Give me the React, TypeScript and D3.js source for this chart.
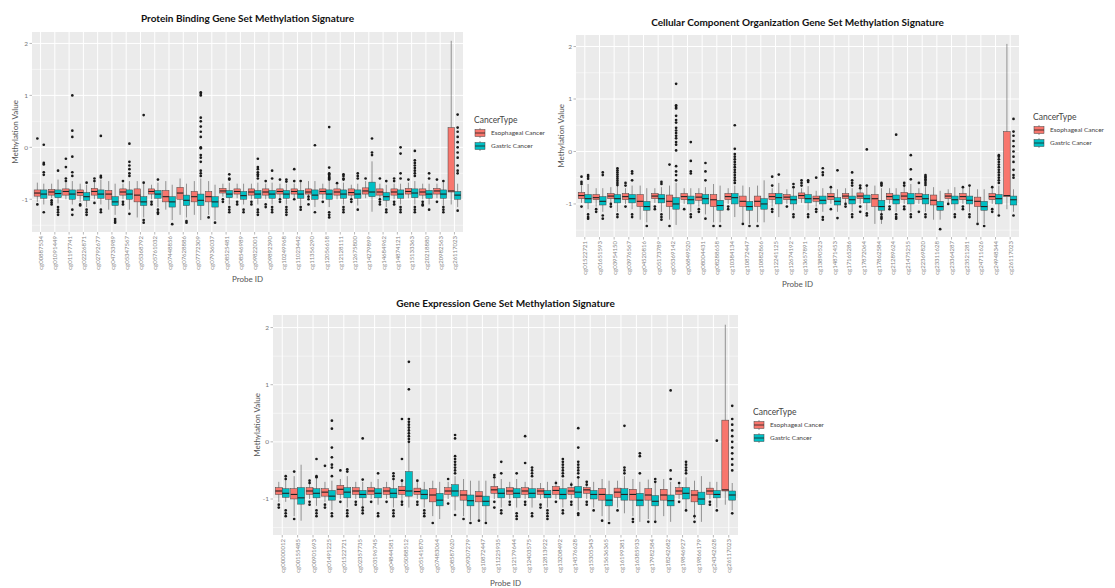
import React, { useRef, useEffect } from 'react';
import * as d3 from 'd3';

// ---- Protein Binding ----
const proteinProbes = ['cg00887534','cg01091449','cg01197741','cg02226871','cg02792677','cg04733989','cg05347567','cg05368792','cg05761032','cg07448856','cg07628886','cg07772309','cg07936037','cg08525481','cg08546989','cg09822001','cg09892390','cg10249968','cg11023442','cg11356290','cg12056618','cg12128111','cg12675800','cg14279899','cg14684962','cg14874121','cg15133363','cg20218880','cg20982563','cg26117023'];
// [low whisker, q1, median, q3, high whisker]
const proteinEso = [[-1.05,-0.94,-0.88,-0.82,-0.68],[-0.98,-0.92,-0.86,-0.81,-0.7],[-1.0,-0.92,-0.85,-0.8,-0.68],[-1.05,-0.93,-0.87,-0.82,-0.7],[-1.0,-0.92,-0.85,-0.79,-0.68],[-1.2,-1.0,-0.9,-0.83,-0.65],[-1.0,-0.92,-0.86,-0.8,-0.7],[-1.35,-1.05,-0.92,-0.8,-0.65],[-1.0,-0.9,-0.85,-0.8,-0.72],[-1.2,-1.05,-0.95,-0.83,-0.65],[-1.3,-1.0,-0.88,-0.77,-0.6],[-1.3,-1.05,-0.95,-0.85,-0.65],[-1.3,-1.05,-0.95,-0.85,-0.65],[-0.95,-0.88,-0.84,-0.79,-0.7],[-0.98,-0.9,-0.85,-0.8,-0.7],[-1.0,-0.92,-0.86,-0.8,-0.7],[-1.0,-0.92,-0.86,-0.8,-0.7],[-0.98,-0.9,-0.85,-0.8,-0.7],[-0.98,-0.9,-0.85,-0.8,-0.7],[-0.95,-0.9,-0.86,-0.8,-0.65],[-1.0,-0.9,-0.85,-0.8,-0.7],[-1.0,-0.92,-0.86,-0.8,-0.72],[-1.0,-0.92,-0.87,-0.8,-0.72],[-0.98,-0.9,-0.84,-0.78,-0.65],[-1.0,-0.92,-0.86,-0.8,-0.7],[-1.0,-0.92,-0.86,-0.8,-0.7],[-0.98,-0.9,-0.85,-0.79,-0.68],[-1.0,-0.92,-0.86,-0.8,-0.7],[-0.98,-0.9,-0.84,-0.79,-0.7],[-1.1,-0.86,-0.84,0.38,2.05]];
const proteinGas = [[-1.1,-0.98,-0.9,-0.82,-0.7],[-1.08,-0.97,-0.89,-0.82,-0.62],[-1.1,-1.0,-0.9,-0.82,-0.65],[-1.15,-1.02,-0.95,-0.87,-0.72],[-1.1,-0.98,-0.9,-0.82,-0.62],[-1.3,-1.12,-1.05,-0.95,-0.7],[-1.2,-1.0,-0.9,-0.82,-0.65],[-1.35,-1.12,-1.05,-0.95,-0.7],[-1.15,-0.98,-0.9,-0.83,-0.68],[-1.4,-1.15,-1.05,-0.95,-0.72],[-1.35,-1.12,-1.02,-0.92,-0.7],[-1.4,-1.12,-1.02,-0.9,-0.6],[-1.4,-1.15,-1.05,-0.95,-0.72],[-1.1,-0.97,-0.9,-0.83,-0.68],[-1.1,-1.0,-0.93,-0.85,-0.7],[-1.1,-0.98,-0.9,-0.83,-0.68],[-1.1,-0.98,-0.9,-0.83,-0.68],[-1.1,-0.98,-0.9,-0.83,-0.7],[-1.12,-0.98,-0.9,-0.83,-0.68],[-1.15,-1.0,-0.92,-0.82,-0.65],[-1.15,-1.0,-0.9,-0.82,-0.65],[-1.1,-0.98,-0.9,-0.82,-0.68],[-1.12,-0.98,-0.9,-0.82,-0.7],[-1.24,-0.95,-0.86,-0.67,-0.27],[-1.15,-1.02,-0.95,-0.87,-0.72],[-1.1,-0.98,-0.9,-0.82,-0.7],[-1.1,-0.97,-0.88,-0.8,-0.65],[-1.1,-0.98,-0.9,-0.83,-0.7],[-1.12,-0.98,-0.9,-0.82,-0.68],[-1.15,-1.0,-0.92,-0.85,-0.7]];
const proteinEsoOut = [[0.17,-1.1],[-1.02,-1.06,-1.1],[-0.22,-0.38,-0.6,-0.65],[-1.1,-1.12],[-0.6,-0.65,-1.07],[],[-0.65,-1.05,-1.1],[],[-1.05,-1.1],[],[],[],[-1.35],[-1.0,-1.05],[-1.05,-1.1],[-1.05,-1.1],[-0.65,-1.1,-1.15],[-0.62,-1.0,-1.05],[-0.42,-0.65,-1.0],[-0.95,-1.0,-1.1],[-1.05],[-0.69],[-1.0,-1.05],[-0.6],[-0.6,-1.0,-1.05,-1.1],[-0.6,-0.65,-1.05,-1.1],[-0.62],[-1.05,-1.1,-1.12],[-0.62,-1.05],[]];
const proteinGasOut = [[0.05,-0.3,-0.33,-0.48,-0.53,-1.25],[-0.45,-1.15,-1.2,-1.25,-1.3],[1.0,0.32,0.2,-0.18,-0.48,-0.55,-1.2,-1.3],[-0.68,-1.2,-1.25,-1.3],[0.22,-0.55,-0.58,-1.2,-1.25],[-1.38,-1.42,-1.45],[0.07,-0.28,-0.35,-0.42,-0.5,-0.55,-1.28],[0.62,-0.68,-1.4,-1.45],[-0.62,-1.2,-1.25,-1.28],[-1.48],[-1.42,-1.45],[1.06,1.03,1.0,0.57,0.5,0.4,0.3,0.2,0.0,-0.02,-0.15,-0.2,-0.28,-0.45,-0.5,-0.55],[-1.45],[-0.52,-0.6,-0.62,-1.15,-1.2,-1.25],[-1.2,-1.25],[-0.22,-0.38,-0.42,-0.48,-0.52,-0.55,-0.6,-1.2,-1.25,-1.3],[-0.45,-0.6,-1.15,-1.2,-1.25],[-0.62,-0.66,-1.15,-1.2,-1.25,-1.3],[-0.65,-1.15,-1.2],[0.04,-1.25],[0.39,-0.39,-0.5,-0.52,-0.55,-0.58,-0.6,-0.62,-1.25,-1.3,-1.35],[-0.52,-0.55,-0.6,-0.62,-1.15,-1.2,-1.25],[-0.5,-0.55,-0.6,-1.2],[0.17,-0.1,-0.15],[-0.65,-1.2,-1.25],[0.0,-0.12,-0.5,-0.6,-1.15,-1.2,-1.25],[-0.07,-0.25,-0.3,-0.35,-0.4,-0.45,-0.5,-0.55,-1.15,-1.2,-1.25],[-0.5,-0.6,-1.2],[-0.65,-1.15,-1.2,-1.25],[0.63,0.38,0.3,0.2,0.1,0.0,-0.1,-0.2,-0.35,-0.45,-0.5,-1.22]];

// ---- Cellular Component Organization ----
const cellularProbes = ['cg01522721','cg01651593','cg03954150','cg03976567','cg04520816','cg05173789','cg05369142','cg06849520','cg08004431','cg08288658','cg10384134','cg10872447','cg10882866','cg12241125','cg12674192','cg13657891','cg13890523','cg14871453','cg17165286','cg17872064','cg17862584','cg21289624','cg21475255','cg22369820','cg23311628','cg23364287','cg23521281','cg24711626','cg24948344','cg26117023'];
const cellularEso = [[-0.98,-0.9,-0.84,-0.78,-0.65],[-1.05,-0.92,-0.88,-0.82,-0.7],[-0.98,-0.9,-0.85,-0.8,-0.68],[-1.0,-0.92,-0.86,-0.8,-0.7],[-1.3,-1.05,-0.95,-0.82,-0.65],[-0.98,-0.9,-0.85,-0.8,-0.7],[-1.3,-1.05,-0.95,-0.83,-0.65],[-1.0,-0.92,-0.86,-0.8,-0.7],[-1.05,-0.93,-0.87,-0.8,-0.7],[-1.35,-1.05,-0.92,-0.82,-0.62],[-1.0,-0.92,-0.86,-0.8,-0.7],[-1.35,-1.05,-0.95,-0.85,-0.65],[-1.35,-1.05,-0.95,-0.85,-0.65],[-1.05,-0.92,-0.86,-0.8,-0.7],[-1.0,-0.92,-0.87,-0.82,-0.72],[-0.98,-0.9,-0.84,-0.79,-0.7],[-1.05,-0.95,-0.9,-0.85,-0.75],[-1.0,-0.92,-0.86,-0.8,-0.7],[-1.0,-0.9,-0.85,-0.8,-0.7],[-1.0,-0.9,-0.85,-0.79,-0.65],[-1.38,-1.05,-0.9,-0.82,-0.65],[-1.0,-0.92,-0.86,-0.8,-0.7],[-1.0,-0.92,-0.85,-0.78,-0.62],[-1.0,-0.92,-0.86,-0.8,-0.7],[-1.3,-1.02,-0.93,-0.83,-0.68],[-0.98,-0.9,-0.85,-0.8,-0.72],[-1.0,-0.92,-0.86,-0.8,-0.7],[-1.35,-1.05,-0.95,-0.87,-0.72],[-1.0,-0.92,-0.86,-0.8,-0.7],[-1.1,-0.86,-0.84,0.38,2.05]];
const cellularGas = [[-1.1,-0.98,-0.9,-0.82,-0.62],[-1.15,-1.02,-0.95,-0.86,-0.7],[-1.15,-0.98,-0.9,-0.82,-0.65],[-1.1,-0.98,-0.9,-0.82,-0.65],[-1.35,-1.12,-1.05,-0.95,-0.7],[-1.15,-0.98,-0.9,-0.82,-0.68],[-1.4,-1.1,-1.0,-0.88,-0.6],[-1.15,-1.0,-0.92,-0.85,-0.7],[-1.2,-1.0,-0.9,-0.82,-0.68],[-1.35,-1.12,-1.03,-0.93,-0.65],[-1.25,-1.0,-0.88,-0.8,-0.65],[-1.38,-1.12,-1.05,-0.95,-0.68],[-1.35,-1.1,-1.0,-0.9,-0.55],[-1.25,-1.0,-0.88,-0.8,-0.6],[-1.12,-1.0,-0.92,-0.85,-0.7],[-1.12,-0.98,-0.9,-0.82,-0.66],[-1.15,-1.0,-0.93,-0.85,-0.7],[-1.15,-1.02,-0.95,-0.88,-0.72],[-1.15,-1.0,-0.92,-0.85,-0.7],[-1.12,-0.98,-0.9,-0.83,-0.65],[-1.38,-1.12,-1.05,-0.93,-0.7],[-1.15,-1.0,-0.92,-0.83,-0.7],[-1.15,-1.0,-0.9,-0.8,-0.62],[-1.15,-1.0,-0.9,-0.82,-0.68],[-1.3,-1.12,-1.05,-0.95,-0.75],[-1.12,-1.0,-0.92,-0.85,-0.68],[-1.15,-1.0,-0.93,-0.85,-0.68],[-1.38,-1.12,-1.05,-0.95,-0.72],[-1.2,-1.0,-0.9,-0.82,-0.65],[-1.15,-1.02,-0.92,-0.85,-0.72]];
const cellularEsoOut = [[-0.48,-0.58,-0.62,-1.05],[-1.1,-1.15],[-1.0,-1.05],[-0.6,-0.65,-1.05],[],[-1.05,-1.1],[-0.25,-1.42],[-1.1],[-1.1,-1.15],[-1.42],[-1.05,-1.1],[-1.38],[-1.42],[-0.48,-0.65,-1.1,-1.15],[-1.05],[-0.55,-0.6,-0.65],[-0.5,-1.1,-1.15],[-0.68,-1.1],[-1.0,-1.05],[-0.65,-0.7,-1.05,-1.15],[],[-1.05,-1.1],[-0.6,-0.65,-1.05,-1.1],[-0.6,-1.15],[],[-1.0],[-0.68,-1.05,-1.1],[-1.38],[-0.68,-1.1,-1.15],[]];
const cellularGasOut = [[-0.45,-0.48,-0.52,-1.2,-1.25,-1.28],[-0.4,-0.45,-1.22,-1.28],[-0.32,-0.36,-0.4,-0.44,-0.48,-0.52,-0.56,-0.6,-0.64,-1.2,-1.25],[-0.38,-0.42,-0.55,-1.2,-1.25],[-1.42],[-0.58,-0.62,-1.2,-1.25,-1.3],[1.29,0.88,0.85,0.82,0.68,0.6,0.55,0.45,0.4,0.35,0.3,0.25,0.18,0.13,0.02,-0.28,-0.38,-0.45,-0.55],[0.18,-0.18,-0.38,-0.42,-1.2,-1.25],[-0.22,-0.38,-0.55,-1.28],[-1.42],[0.5,0.05,-0.05,-0.1,-0.15,-0.2,-0.25,-0.3,-0.35,-0.4,-0.45,-0.5,-0.55,-0.6],[-1.42],[],[-0.44],[-0.62,-0.68,-1.2,-1.25],[-0.55,-0.58,-1.2,-1.25],[-0.32,-0.4,-0.45,-1.25,-1.3],[-0.36,-1.27],[-0.4,-0.55,-0.6,-0.65,-1.2,-1.25],[0.04,-0.65,-1.18,-1.22],[-0.6,-0.62,-0.65,-1.2,-1.25,-1.28],[0.32,-1.2,-1.25,-1.28],[-0.07,-0.34,-0.53,-1.2,-1.25],[-0.45,-0.48,-0.5,-0.53,-0.56,-0.6,-0.64,-1.2,-1.25],[-1.48],[-1.2,-1.25],[-0.65,-1.2,-1.25],[-1.42],[-0.07,-0.1,-0.15,-0.2,-0.25,-0.3,-0.35,-0.4,-0.45,-0.5,-0.55,-0.6,-1.22],[0.62,0.38,0.3,0.2,0.1,0.0,-0.1,-0.2,-0.35,-0.45,-0.5,-1.22]];

// ---- Gene Expression ----
const expressionProbes = ['cg00000012','cg00155485','cg00901693','cg01491225','cg01522721','cg02357735','cg03196745','cg04844581','cg05088512','cg05141870','cg07483064','cg08587620','cg09307279','cg10872447','cg11225935','cg12179644','cg12403575','cg12813922','cg13208492','cg14576628','cg15305343','cg15636365','cg16199381','cg16385933','cg17982584','cg18242682','cg19846927','cg19866179','cg24342628','cg26117023'];
const expressionEso = [[-1.05,-0.92,-0.86,-0.8,-0.7],[-1.3,-1.0,-0.92,-0.82,-0.6],[-1.0,-0.92,-0.86,-0.8,-0.72],[-1.05,-0.95,-0.88,-0.82,-0.7],[-1.0,-0.92,-0.83,-0.76,-0.65],[-1.0,-0.92,-0.86,-0.8,-0.7],[-1.0,-0.92,-0.86,-0.8,-0.7],[-1.0,-0.92,-0.86,-0.8,-0.7],[-1.05,-0.92,-0.85,-0.78,-0.65],[-1.0,-0.92,-0.87,-0.81,-0.7],[-1.3,-1.05,-0.93,-0.82,-0.68],[-1.0,-0.92,-0.86,-0.8,-0.7],[-1.3,-1.02,-0.93,-0.85,-0.65],[-1.35,-1.05,-0.95,-0.87,-0.68],[-1.0,-0.9,-0.84,-0.78,-0.65],[-1.0,-0.92,-0.86,-0.8,-0.7],[-1.0,-0.92,-0.86,-0.8,-0.7],[-1.0,-0.92,-0.86,-0.82,-0.72],[-1.0,-0.92,-0.85,-0.78,-0.68],[-1.0,-0.92,-0.86,-0.8,-0.7],[-1.0,-0.9,-0.84,-0.8,-0.7],[-1.3,-1.02,-0.92,-0.82,-0.65],[-1.15,-0.97,-0.88,-0.81,-0.68],[-1.3,-1.02,-0.92,-0.83,-0.65],[-1.35,-1.02,-0.93,-0.82,-0.66],[-1.3,-1.02,-0.93,-0.83,-0.65],[-1.0,-0.92,-0.86,-0.8,-0.7],[-1.35,-1.05,-0.93,-0.85,-0.68],[-1.0,-0.92,-0.86,-0.81,-0.7],[-1.1,-0.86,-0.84,0.38,2.05]];
const expressionGas = [[-1.05,-0.97,-0.9,-0.82,-0.62],[-1.38,-1.09,-0.98,-0.8,-0.4],[-1.12,-0.98,-0.9,-0.82,-0.65],[-1.2,-1.02,-0.95,-0.85,-0.68],[-1.15,-0.98,-0.88,-0.8,-0.6],[-1.15,-0.98,-0.92,-0.85,-0.7],[-1.1,-0.98,-0.9,-0.82,-0.65],[-1.15,-0.98,-0.9,-0.82,-0.65],[-1.15,-0.95,-0.86,-0.52,0.38],[-1.15,-1.0,-0.92,-0.84,-0.7],[-1.35,-1.12,-1.02,-0.9,-0.7],[-1.2,-0.95,-0.86,-0.75,-0.6],[-1.38,-1.12,-1.03,-0.93,-0.68],[-1.4,-1.12,-1.04,-0.95,-0.68],[-1.15,-0.98,-0.9,-0.82,-0.65],[-1.15,-0.98,-0.9,-0.82,-0.65],[-1.15,-0.98,-0.9,-0.82,-0.65],[-1.15,-0.98,-0.92,-0.85,-0.7],[-1.15,-1.0,-0.92,-0.82,-0.65],[-1.2,-0.98,-0.88,-0.78,-0.6],[-1.15,-1.0,-0.92,-0.85,-0.7],[-1.38,-1.12,-1.02,-0.92,-0.68],[-1.25,-1.02,-0.92,-0.82,-0.6],[-1.4,-1.12,-1.02,-0.9,-0.7],[-1.4,-1.12,-1.04,-0.94,-0.7],[-1.4,-1.12,-1.03,-0.93,-0.7],[-1.2,-1.0,-0.9,-0.8,-0.62],[-1.4,-1.1,-1.0,-0.88,-0.6],[-1.15,-0.98,-0.92,-0.85,-0.7],[-1.2,-1.02,-0.93,-0.86,-0.72]];
const expressionEsoOut = [[-1.1,-1.15],[-0.52,-1.35],[-0.68,-0.72,-1.05,-1.1],[-0.42,-1.1,-1.15],[-0.5,-1.05],[-1.05,-1.1],[-1.05],[-1.05],[0.4,-0.3,-0.68,-1.05,-1.1],[-0.68,-1.05,-1.1],[-1.42],[-0.65,-1.08],[-1.35],[-1.38],[-0.58,-0.62,-1.05,-1.15],[-1.05,-1.1],[0.1,-0.37,-1.05,-1.1],[-1.1,-1.15],[-0.72,-1.05],[-0.75,-1.05,-1.1],[-0.7,-0.75,-1.05,-1.1],[-1.38],[-1.2],[-1.35,-1.4],[-1.4],[],[-0.72,-1.05],[-1.3,-1.4],[-1.05,-1.1],[]];
const expressionGasOut = [[-0.6,-0.65,-1.2,-1.25,-1.3],[],[-0.3,-0.6,-0.62,-1.2,-1.25,-1.3],[0.37,0.23,-0.1,-0.27,-0.4,-0.45,-0.6,-1.25,-1.3],[-0.48,-0.52,-1.2,-1.25,-1.3],[0.06,-0.66,-1.15,-1.2,-1.25],[-0.55,-1.25,-1.3],[-0.55,-0.6,-0.65,-1.2,-1.25,-1.3],[1.4,0.92,0.4,0.35,0.3,0.25,0.2,0.15,0.1,0.05,0.0],[-1.2,-1.25,-1.3],[],[0.12,0.06,-0.25,-0.3,-0.35,-0.4,-0.45,-0.5,-0.55,-1.28],[-1.42],[-1.42],[-0.35,-0.55,-1.2,-1.25],[-0.55,-1.25,-1.3,-1.35],[-0.45,-0.5,-0.55,-0.6,-1.25,-1.3],[-1.2,-1.25,-1.3,-1.35],[-0.3,-0.35,-0.4,-0.45,-0.5,-0.55,-0.6,-1.2,-1.25],[0.24,-0.1,-0.35,-0.4,-0.45,-0.5,-0.55,-0.62,-1.25,-1.28],[-1.2],[-1.42],[0.28,-0.45,-0.5,-0.55],[-0.2,-0.25,-0.55],[-0.65,-0.7,-1.4],[0.9,-0.5,-0.65],[-0.35,-0.4,-0.45,-0.5,-0.55,-1.2],[],[0.02,-1.2],[0.63,0.4,0.3,0.2,0.1,0.0,-0.1,-0.2,-0.3,-0.4,-0.5,-1.25]];

const groups = ['Esophageal Cancer', 'Gastric Cancer'];
const groupColors = ['#F8766D', '#00BFC4'];
const yTicks = [-1, 0, 1, 2];
const yMinor = [-1.5, -0.5, 0.5, 1.5];

const panels = [
    { title: 'Protein Binding Gene Set Methylation Signature', probes: proteinProbes, stats: [proteinEso, proteinGas], outs: [proteinEsoOut, proteinGasOut],
      x0: 32, x1: 463, y0: 32, y1: 232, titleY: 22, yLabX: 15, xLabY: 282, legX: 474, legY: 123 },
    { title: 'Cellular Component Organization Gene Set Methylation Signature', probes: cellularProbes, stats: [cellularEso, cellularGas], outs: [cellularEsoOut, cellularGasOut],
      x0: 576, x1: 1019, y0: 35, y1: 237, titleY: 26, yLabX: 561, xLabY: 287, legX: 1033, legY: 120 },
    { title: 'Gene Expression Gene Set Methylation Signature', probes: expressionProbes, stats: [expressionEso, expressionGas], outs: [expressionEsoOut, expressionGasOut],
      x0: 273, x1: 738, y0: 315, y1: 535, titleY: 307, yLabX: 257, xLabY: 586, legX: 753, legY: 415 },
];

const FONT = 'Lato, "Open Sans", sans-serif';

const App = () => {
    const svgRef = useRef<SVGSVGElement>(null);

    useEffect(() => {
        const svg = d3.select(svgRef.current);
        svg.selectAll('*').remove();
        svg.append('rect').attr('width', 1115).attr('height', 588).attr('fill', '#fff');

        panels.forEach(p => {
            const g = svg.append('g');
            const x = d3.scalePoint<string>().domain(p.probes).range([p.x0, p.x1]).padding(0.6);
            const y = d3.scaleLinear().domain([-1.63, 2.22]).range([p.y1, p.y0]);
            const step = x.step();
            const bw = step * 0.45;

            // panel background + grid
            g.append('rect').attr('x', p.x0).attr('y', p.y0).attr('width', p.x1 - p.x0).attr('height', p.y1 - p.y0).attr('fill', '#EBEBEB');
            g.selectAll('.minor').data(yMinor).join('line')
                .attr('x1', p.x0).attr('x2', p.x1).attr('y1', d => y(d)).attr('y2', d => y(d))
                .attr('stroke', '#fff').attr('stroke-width', 0.5);
            g.selectAll('.major').data(yTicks).join('line')
                .attr('x1', p.x0).attr('x2', p.x1).attr('y1', d => y(d)).attr('y2', d => y(d))
                .attr('stroke', '#fff').attr('stroke-width', 1);
            g.selectAll('.vgrid').data(p.probes).join('line')
                .attr('x1', d => x(d)!).attr('x2', d => x(d)!).attr('y1', p.y0).attr('y2', p.y1)
                .attr('stroke', '#fff').attr('stroke-width', 1);

            // boxes
            groups.forEach((_, gi) => {
                const off = (gi === 0 ? -0.5 : 0.5) * bw;
                p.probes.forEach((probe, i) => {
                    const [lo, q1, med, q3, hi] = p.stats[gi][i];
                    const cx = x(probe)! + off;
                    g.append('line').attr('x1', cx).attr('x2', cx).attr('y1', y(hi)).attr('y2', y(lo))
                        .attr('stroke', '#555').attr('stroke-width', 0.6);
                    g.append('rect').attr('x', cx - bw / 2).attr('width', bw)
                        .attr('y', y(q3)).attr('height', y(q1) - y(q3))
                        .attr('fill', groupColors[gi]).attr('stroke', '#444').attr('stroke-width', 0.5);
                    g.append('line').attr('x1', cx - bw / 2).attr('x2', cx + bw / 2).attr('y1', y(med)).attr('y2', y(med))
                        .attr('stroke', '#222').attr('stroke-width', 1.1);
                    g.selectAll(null).data(p.outs[gi][i]).join('circle')
                        .attr('cx', cx).attr('cy', d => y(d)).attr('r', 1.35).attr('fill', '#1a1a1a');
                });
            });

            // y axis
            g.selectAll('.ytick').data(yTicks).join('line')
                .attr('x1', p.x0 - 2.5).attr('x2', p.x0).attr('y1', d => y(d)).attr('y2', d => y(d))
                .attr('stroke', '#888').attr('stroke-width', 0.6);
            g.selectAll('.ylab').data(yTicks).join('text')
                .attr('x', p.x0 - 4).attr('y', d => y(d)).attr('dy', '0.35em')
                .attr('text-anchor', 'end').attr('font-size', 6.5).attr('fill', '#777').attr('font-family', FONT)
                .text(d => String(d));

            // x axis
            g.selectAll('.xtick').data(p.probes).join('line')
                .attr('x1', d => x(d)!).attr('x2', d => x(d)!).attr('y1', p.y1).attr('y2', p.y1 + 2.5)
                .attr('stroke', '#888').attr('stroke-width', 0.6);
            g.selectAll('.xlab').data(p.probes).join('text')
                .attr('transform', d => `translate(${x(d)! + 0.5},${p.y1 + 4}) rotate(-90)`)
                .attr('dy', '0.35em').attr('text-anchor', 'end')
                .attr('font-size', 6).attr('fill', '#888').attr('font-family', FONT)
                .text(d => d);

            // titles
            const cxm = (p.x0 + p.x1) / 2;
            g.append('text').attr('x', cxm).attr('y', p.titleY).attr('text-anchor', 'middle')
                .attr('font-size', 10).attr('font-weight', 'bold').attr('fill', '#111').attr('font-family', FONT)
                .text(p.title);
            g.append('text').attr('x', cxm).attr('y', p.xLabY).attr('text-anchor', 'middle')
                .attr('font-size', 8).attr('fill', '#555').attr('font-family', FONT).text('Probe ID');
            g.append('text').attr('transform', `translate(${p.yLabX},${(p.y0 + p.y1) / 2}) rotate(-90)`)
                .attr('dy', '0.35em').attr('text-anchor', 'middle')
                .attr('font-size', 8).attr('fill', '#555').attr('font-family', FONT).text('Methylation Value');

            // legend
            g.append('text').attr('x', p.legX).attr('y', p.legY).attr('font-size', 8.5).attr('fill', '#444')
                .attr('font-family', FONT).text('CancerType');
            groups.forEach((name, gi) => {
                const ky = p.legY + 5 + gi * 13;
                g.append('line').attr('x1', p.legX + 6).attr('x2', p.legX + 6).attr('y1', ky).attr('y2', ky + 10)
                    .attr('stroke', '#555').attr('stroke-width', 0.6);
                g.append('rect').attr('x', p.legX + 1).attr('y', ky + 1.5).attr('width', 10).attr('height', 7)
                    .attr('fill', groupColors[gi]).attr('stroke', '#444').attr('stroke-width', 0.5);
                g.append('line').attr('x1', p.legX + 1).attr('x2', p.legX + 11).attr('y1', ky + 5).attr('y2', ky + 5)
                    .attr('stroke', '#222').attr('stroke-width', 0.8);
                g.append('text').attr('x', p.legX + 17).attr('y', ky + 5).attr('dy', '0.35em')
                    .attr('font-size', 6.5).attr('fill', '#444').attr('font-family', FONT).text(name);
            });
        });
    }, []);

    return (
        <svg ref={svgRef} width={1115} height={588} style={{ position: 'absolute', left: 0, top: 0 }}></svg>
    );
};

export default App;
